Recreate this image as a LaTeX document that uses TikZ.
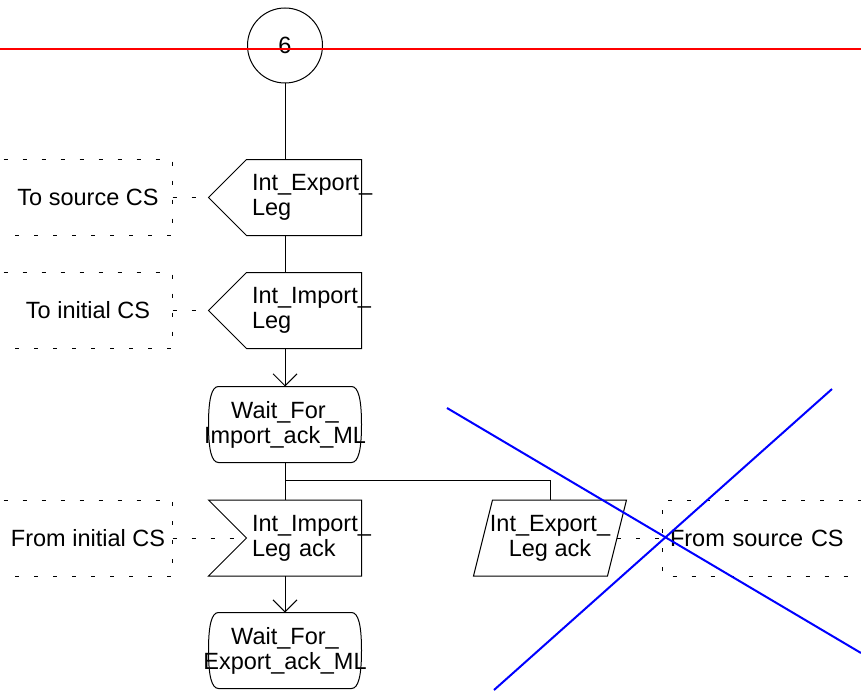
\documentclass[tikz,border=0pt]{standalone}
\usepackage{fontspec}
\setmainfont{Liberation Sans}
\usetikzlibrary{arrows.meta}

\tikzset{
  sdltext/.style={font=\fontsize{23.5}{25}\selectfont},
  sdlsig/.style={sdltext, minimum width=114pt, minimum height=75pt, text width=104pt,
    inner xsep=5pt, inner ysep=0pt, align=left},
  sdlstate/.style={sdltext, minimum width=152pt, minimum height=75pt, inner xsep=-6pt,
    inner ysep=0pt, align=center},
  sdlnote/.style={sdltext, minimum width=168pt, minimum height=75pt, inner sep=0pt},
  notedash/.style={dash pattern=on 4pt off 15pt},
}

\begin{document}
\begin{tikzpicture}[x=1pt, y=-1pt, line width=1pt, >={Straight Barb[length=12pt, width=24pt]}]
  \useasboundingbox (0,0) rectangle (861,690);

  % connector 6
  \node[circle, draw, minimum size=75pt, inner sep=0pt, sdltext] (six) at (285,45.5) {6};
  \draw[red, line width=2pt] (0,49.5) -- (861,49.5);

  % outputs
  \node[sdlsig] (exp) at (304,197.5) {Int\_Export\_\\Leg};
  \draw (exp.north west) -- (exp.north east) -- (exp.south east) -- (exp.south west)
    -- ([xshift=-38pt]exp.west) -- cycle;
  \node[sdlnote] (tosrc) at (88,197.5) {To source CS};
  \draw[notedash] (tosrc.north west) -- (tosrc.north east) -- (tosrc.south east) -- (tosrc.south west);
  \draw[notedash] (tosrc.east) -- ([xshift=-38pt]exp.west);

  \node[sdlsig] (imp) at (304,310.5) {Int\_Import\_\\Leg};
  \draw (imp.north west) -- (imp.north east) -- (imp.south east) -- (imp.south west)
    -- ([xshift=-38pt]imp.west) -- cycle;
  \node[sdlnote] (toinit) at (88,310.5) {To initial CS};
  \draw[notedash] (toinit.north west) -- (toinit.north east) -- (toinit.south east) -- (toinit.south west);
  \draw[notedash] (toinit.east) -- ([xshift=-38pt]imp.west);

  % state
  \node[sdlstate] (waitimp) at (285,424.5) {Wait\_For\_\\Import\_ack\_ML};
  \draw ([xshift=10pt]waitimp.north west) -- ([xshift=-10pt]waitimp.north east)
    .. controls +(7,0) and +(0,-25) .. (waitimp.east)
    .. controls +(0,25) and +(7,0) .. ([xshift=-10pt]waitimp.south east)
    -- ([xshift=10pt]waitimp.south west)
    .. controls +(-7,0) and +(0,25) .. (waitimp.west)
    .. controls +(0,-25) and +(-7,0) .. ([xshift=10pt]waitimp.north west) -- cycle;

  % inputs
  \node[sdlsig] (inack) at (304,538) {Int\_Import\_\\Leg ack};
  \draw ([xshift=-38pt]inack.north west) -- (inack.north east) -- (inack.south east)
    -- ([xshift=-38pt]inack.south west) -- (inack.west) -- cycle;
  \node[sdlnote] (fromini) at (88,538) {From initial CS};
  \draw[notedash] (fromini.north west) -- (fromini.north east) -- (fromini.south east) -- (fromini.south west);
  \draw[notedash] (fromini.east) -- (inack.west);

  \node[sdltext, minimum width=133pt, minimum height=75pt, inner sep=0pt, align=center]
    (expack) at (550,538) {Int\_Export\_\\Leg ack};
  \draw ([xshift=9.5pt]expack.north west) -- ([xshift=9.5pt]expack.north east)
    -- ([xshift=-9.5pt]expack.south east) -- ([xshift=-9.5pt]expack.south west) -- cycle;
  \node[sdlnote, minimum width=198pt, text width=184pt, inner xsep=7pt, align=left]
    (fromsrc) at (762,538) {From source CS};
  \draw[notedash] (fromsrc.north east) -- (fromsrc.north west) -- (fromsrc.south west) -- (fromsrc.south east);
  \draw[notedash] (expack.east) -- (fromsrc.west);

  % next state
  \node[sdlstate] (waitexp) at (285,650.5) {Wait\_For\_\\Export\_ack\_ML};
  \draw ([xshift=10pt]waitexp.north west) -- ([xshift=-10pt]waitexp.north east)
    .. controls +(7,0) and +(0,-25) .. (waitexp.east)
    .. controls +(0,25) and +(7,0) .. ([xshift=-10pt]waitexp.south east)
    -- ([xshift=10pt]waitexp.south west)
    .. controls +(-7,0) and +(0,25) .. (waitexp.west)
    .. controls +(0,-25) and +(-7,0) .. ([xshift=10pt]waitexp.north west) -- cycle;

  % flow
  \draw (six) -- (six |- exp.north);
  \draw (exp.south -| six) -- (imp.north -| six);
  \draw[->] (imp.south -| six) -- (waitimp);
  \draw (waitimp.south) -- (inack.north -| waitimp);
  \draw (waitimp.south) -- ++(0,18) -| (expack.north);
  \draw[->] (inack.south -| waitimp) -- (waitexp);

  % crossed out
  \draw[blue, line width=2pt] (447,408) -- (861,653);
  \draw[blue, line width=2pt] (832,389) -- (494,690);
\end{tikzpicture}
\end{document}
